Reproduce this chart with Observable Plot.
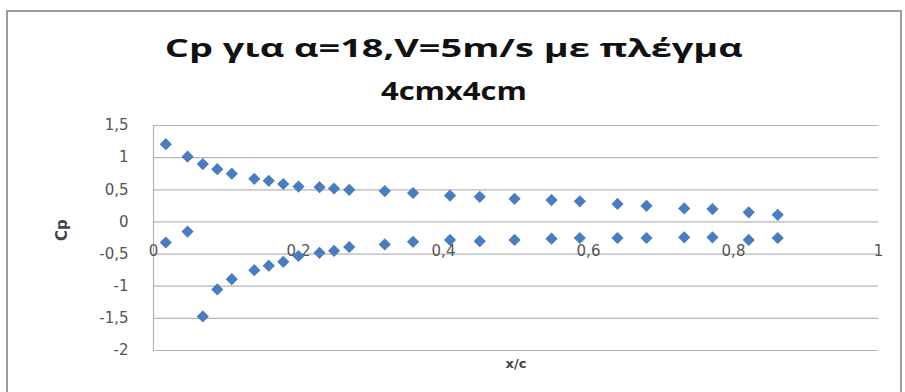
<!DOCTYPE html>
<html>
<head>
<meta charset="utf-8">
<script src="https://cdn.jsdelivr.net/npm/d3@7"></script>
<script src="https://cdn.jsdelivr.net/npm/@observablehq/plot@0.6"></script>
<style>
  body { margin: 0; background: #fff; }
  #wrap { position: relative; width: 905px; height: 392px; overflow: hidden; background: #fff; }
  #border { position: absolute; left: 6px; top: 10px; width: 896px; height: 420px; border: 2px solid #9c9c9c; box-sizing: border-box; }
  .t { position: absolute; left: 0; width: 908px; text-align: center; font-family: "Open Sans", sans-serif; font-weight: 700; font-size: 25px; line-height: 30px; color: #111; white-space: nowrap; }
  .t span { display: inline-block; transform-origin: center; }
  #t1 { top: 32px; }
  #t2 { top: 75px; }
  #plot { position: absolute; left: 0; top: 110px; }
</style>
</head>
<body>
<div id="wrap">
  <div id="border"></div>
  <div class="t" id="t1"><span>Cp για α=18,V=5m/s με πλέγμα</span></div>
  <div class="t" id="t2"><span>4cmx4cm</span></div>
  <div id="plot"></div>
</div>
<script>
// x/c positions of the pressure taps
const xc = [0.017, 0.047, 0.068, 0.088, 0.108, 0.139, 0.159, 0.179, 0.2, 0.229, 0.249, 0.27, 0.319, 0.358, 0.409, 0.45, 0.498, 0.549, 0.588, 0.64, 0.68, 0.732, 0.771, 0.821, 0.861];
// Cp, upper series
const cpUpper = [1.21, 1.015, 0.9, 0.82, 0.75, 0.67, 0.64, 0.59, 0.55, 0.54, 0.52, 0.5, 0.48, 0.45, 0.41, 0.39, 0.36, 0.34, 0.32, 0.28, 0.25, 0.21, 0.2, 0.15, 0.11];
// Cp, lower series
const cpLower = [-0.32, -0.15, -1.47, -1.05, -0.89, -0.75, -0.68, -0.62, -0.53, -0.48, -0.45, -0.39, -0.35, -0.31, -0.28, -0.3, -0.28, -0.26, -0.25, -0.25, -0.25, -0.24, -0.24, -0.28, -0.25];
// tick values
const xTicks = [0, 0.2, 0.4, 0.6, 0.8, 1];
const yTicks = [1.5, 1, 0.5, 0, -0.5, -1, -1.5, -2];
const xLabel = "x/c";
const yLabel = "Cp";

const upper = xc.map((x, i) => ({x, cp: cpUpper[i]}));
const lower = xc.map((x, i) => ({x, cp: cpLower[i]}));
const fmt = d => String(d).replace(".", ",");
const blue = "#4a7cc0";
const grid = "#b4b4b4";

const chart = Plot.plot({
  width: 905,
  height: 282,
  marginLeft: 153,
  marginRight: 27,
  marginTop: 15,
  marginBottom: 42,
  style: { fontFamily: "DejaVu Sans, sans-serif", fontSize: "15px", color: "#555", background: "transparent" },
  x: { domain: [0, 1] },
  y: { domain: [-2, 1.5] },
  marks: [
    Plot.ruleY(yTicks, { stroke: grid, strokeWidth: 1.2 }),
    Plot.ruleX([0], { stroke: grid, strokeWidth: 1.2 }),
    Plot.axisY({ ticks: yTicks, tickSize: 0, tickPadding: 25, tickFormat: fmt, label: null, fontSize: 15, fill: "#555" }),
    Plot.axisX({ ticks: [], label: null, tickSize: 0 }),
    Plot.text(xTicks, { x: d => d, y: -0.45, text: fmt, fontSize: 15, fill: "#555" }),
    Plot.text([xLabel], { frameAnchor: "bottom", dy: 17, fontWeight: "bold", fontSize: 13, fill: "#444" }),
    Plot.text([yLabel], { frameAnchor: "left", dx: -91, dy: 3, rotate: -90, fontWeight: "bold", fontSize: 15, fill: "#444" }),
    Plot.dot(upper, { x: "x", y: "cp", symbol: "diamond2", r: 5.5, fill: blue, stroke: "none" }),
    Plot.dot(lower, { x: "x", y: "cp", symbol: "diamond2", r: 5.5, fill: blue, stroke: "none" })
  ]
});
document.getElementById("plot").appendChild(chart);

// stretch the title horizontally like the reference
const s1 = document.querySelector("#t1 span");
const s2 = document.querySelector("#t2 span");
s1.style.transform = `scaleX(${578 / s1.getBoundingClientRect().width})`;
s2.style.transform = `scaleX(${146 / s2.getBoundingClientRect().width})`;
</script>
</body>
</html>
